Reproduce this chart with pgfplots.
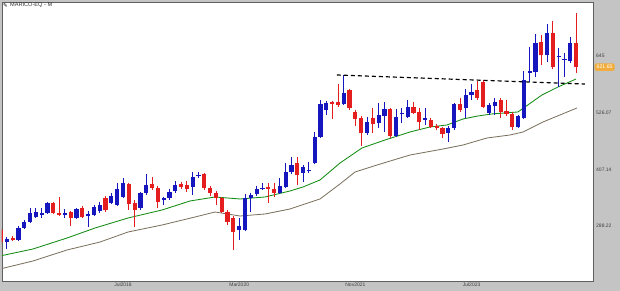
\documentclass[border=0pt]{standalone}
\usepackage{pgfplots}
\pgfplotsset{compat=1.18}
\usepackage{pgfplotstable}
\usepackage{fontspec}
\setmainfont{Liberation Sans}
\newfontfamily\djv{DejaVu Sans}
\definecolor{upc}{RGB}{22,22,190}
\definecolor{dnc}{RGB}{228,30,30}
\definecolor{maone}{RGB}{20,140,20}
\definecolor{matwo}{RGB}{120,110,90}
\definecolor{panel}{RGB}{196,196,196}
\definecolor{framec}{RGB}{95,95,95}
\definecolor{tagc}{RGB}{240,172,60}

\pgfplotstableread{
x o h l c
1 254.6 265.1 240.0 260.9
3 258.8 288.2 256.7 284.0
4 284.0 300.8 281.9 296.6
5 296.6 326.0 294.5 315.5
6 307.1 326.0 305.0 317.6
7 311.3 326.0 305.0 315.5
8 315.5 338.6 313.4 336.5
11 311.3 323.9 305.0 315.5
13 305.0 326.0 302.9 323.9
15 309.2 319.7 286.1 313.4
16 311.3 332.3 309.2 328.1
17 319.7 338.6 315.5 332.3
19 336.5 357.5 334.4 351.2
20 332.3 378.5 330.2 365.9
21 349.1 389.0 347.0 378.5
24 326.0 359.6 321.8 357.5
25 357.5 397.4 353.3 374.3
28 342.8 349.1 332.3 347.0
29 347.0 365.9 342.8 359.6
30 361.7 382.7 357.5 374.3
33 370.1 401.5 353.3 391.1
34 393.2 401.5 389.0 395.3
41 279.8 305.0 258.8 288.2
42 279.8 355.4 277.7 347.0
43 347.0 357.5 317.6 353.3
44 355.4 372.2 351.2 365.9
45 365.9 378.5 363.8 368.0
48 357.5 389.0 355.4 372.2
49 370.1 420.4 368.0 401.5
50 401.5 433.0 397.4 416.2
52 399.5 416.2 380.6 412.1
53 403.7 422.5 399.5 405.8
54 420.4 485.5 418.3 475.0
55 475.0 552.7 472.9 544.3
56 531.7 550.6 521.2 546.4
59 544.3 605.1 542.2 567.4
63 483.4 517.0 479.2 506.5
65 504.4 546.4 493.9 521.2
66 519.1 548.5 485.5 533.8
68 477.1 533.8 475.0 517.0
69 523.4 535.9 504.4 525.5
70 517.0 552.7 514.9 538.0
73 510.7 535.9 500.2 514.9
77 483.4 498.1 464.5 493.9
78 493.9 546.4 489.7 544.3
80 535.9 575.7 514.9 563.2
81 563.2 586.2 552.7 569.5
84 525.5 546.4 521.2 542.2
85 540.1 556.9 521.2 548.5
89 496.0 521.2 493.9 519.1
90 514.9 613.5 512.8 594.6
91 609.3 663.9 590.4 613.5
92 611.4 691.2 600.9 672.3
94 647.1 712.2 632.4 693.3
96 642.9 661.8 579.9 645.0
97 636.6 651.3 600.9 638.7
98 634.5 684.9 630.3 672.3
}\upt

\pgfplotstableread{
x o h l c
0 279.8 284.0 250.4 254.6
2 263.0 267.2 256.7 258.8
9 336.5 338.6 313.4 315.5
10 315.5 349.1 309.2 311.3
12 317.6 319.7 288.2 305.0
14 326.0 330.2 305.0 307.1
18 347.0 351.2 317.6 321.8
22 376.4 378.5 321.8 334.4
23 336.5 342.8 286.1 321.8
26 376.4 391.1 363.8 368.0
27 368.0 372.2 326.0 338.6
31 376.4 380.6 365.9 370.1
32 374.3 382.7 359.6 365.9
35 397.4 399.5 363.8 368.0
36 368.0 372.2 351.2 357.5
37 357.5 361.7 332.3 347.0
38 347.0 349.1 315.5 317.6
39 317.6 321.8 290.3 296.6
40 305.0 309.2 237.9 275.6
46 370.1 378.5 336.5 365.9
47 365.9 378.5 349.1 357.5
51 420.4 433.0 374.3 395.3
57 548.5 550.6 512.8 544.3
58 548.5 586.2 538.0 542.2
60 573.7 575.7 531.7 535.9
61 527.5 531.7 498.1 512.8
62 514.9 519.1 456.1 483.4
64 514.9 535.9 483.4 502.3
67 533.8 535.9 472.9 477.1
71 538.0 548.5 523.4 525.5
72 527.5 535.9 489.7 506.5
74 510.7 514.9 493.9 496.0
75 498.1 502.3 489.7 493.9
76 493.9 496.0 472.9 481.3
79 544.3 556.9 527.5 531.7
82 573.7 592.5 552.7 556.9
83 590.4 594.6 535.9 538.0
86 552.7 556.9 514.9 527.5
87 529.6 552.7 519.1 523.4
88 523.4 527.5 489.7 496.0
93 674.4 689.1 626.1 647.1
95 693.3 718.5 617.7 621.9
99 672.3 735.2 609.3 621.65
}\dnt

\begin{document}
\begin{tikzpicture}
\useasboundingbox (-2pt,-10pt) rectangle (618pt,281pt);
\fill[panel] (-2pt,-10pt) rectangle (618pt,281pt);
\begin{axis}[
  at={(0pt,0pt)}, anchor=south west,
  scale only axis, width=591pt, height=279pt,
  xmin=0.17, xmax=101.9, ymin=172.8, ymax=758.3,
  axis background/.style={fill=white},
  axis line style={framec, line width=0.8pt},
  major tick length=0pt,
  xtick={21,41,61,81},
  xticklabels={Jul2018,Mar2020,Nov2021,Jul2023},
  xticklabel style={font=\fontsize{5}{6}\selectfont, text=black!75, inner sep=0pt, yshift=-1.8pt},
  ytick={288.22,407.14,526.07,645},
  yticklabels={288.22,407.14,526.07,645},
  yticklabel pos=right,
  yticklabel style={font=\fontsize{5}{6}\selectfont, text=black!75, inner sep=0pt, xshift=3pt},
  clip=true,
  candle/.style={draw=none, mark=none, forget plot, error bars/.cd, y dir=plus, y explicit, error mark=none},
]
\addplot[matwo, line width=0.8pt, mark=none] coordinates {
(-0.17,198.0) (5.51,214.8) (11.36,237.9) (17.04,254.6) (21.86,275.6) (27.71,290.3)
(33.39,307.1) (36.83,317.6) (41.14,309.2) (45.44,313.4) (49.74,323.9) (54.91,344.9)
(58.35,376.4) (60.93,401.5) (64.72,416.2) (70.40,437.2) (76.08,449.8) (79.52,458.2)
(83.65,472.9) (87.61,479.2) (89.85,485.5) (93.29,506.5) (96.21,521.2) (99.14,535.9)};
\addplot[maone, line width=0.85pt, mark=none] coordinates {
(-0.17,225.3) (5.51,240.0) (11.36,263.0) (16.18,284.0) (21.86,305.0) (27.71,321.8)
(32.53,340.7) (36.83,349.1) (41.14,344.9) (45.44,349.1) (49.74,361.7) (51.98,370.1)
(54.91,384.8) (58.35,420.4) (62.13,451.9) (66.09,468.7) (70.40,485.5) (73.84,496.0)
(76.76,500.2) (79.52,512.8) (82.10,519.1) (84.51,523.4) (88.98,527.5) (90.19,538.0)
(93.12,563.2) (95.87,579.9) (98.97,596.7)};
% wicks
\addplot[candle, error bar style={draw=upc, line width=0.9pt}]
  table[x=x, y=l, y error plus expr=\thisrow{h}-\thisrow{l}] {\upt};
\addplot[candle, error bar style={draw=dnc, line width=0.9pt}]
  table[x=x, y=l, y error plus expr=\thisrow{h}-\thisrow{l}] {\dnt};
% bodies
\addplot[candle, error bar style={draw=upc, line width=4.2pt}]
  table[x=x, y=o, y error plus expr={max(\thisrow{c}-\thisrow{o},2.2)}] {\upt};
\addplot[candle, error bar style={draw=dnc, line width=4.2pt}]
  table[x=x, y=c, y error plus expr={max(\thisrow{o}-\thisrow{c},2.2)}] {\dnt};
% trend line
\addplot[black, line width=1.2pt, dash pattern=on 4pt off 3pt, mark=none] coordinates {(57.8,605.1) (100.5,586.2)};
\coordinate (tagpos) at (axis cs:101.9,621.65);
\end{axis}
\node[fill=tagc, text=white, rounded corners=2pt, font=\fontsize{5.2}{6}\selectfont, inner xsep=2pt, inner ysep=2pt, anchor=west] at ([xshift=1.5pt]tagpos) {621.65};
\node[anchor=west, font=\fontsize{5.6}{6.5}\selectfont, text=black!80, inner sep=0pt] at (8pt,275.5pt) {MARICO-EQ - M};
\node[anchor=west, font=\djv\fontsize{5.5}{6.5}\selectfont, inner sep=0pt] at (1pt,275.5pt) {✎};
\end{tikzpicture}
\end{document}
